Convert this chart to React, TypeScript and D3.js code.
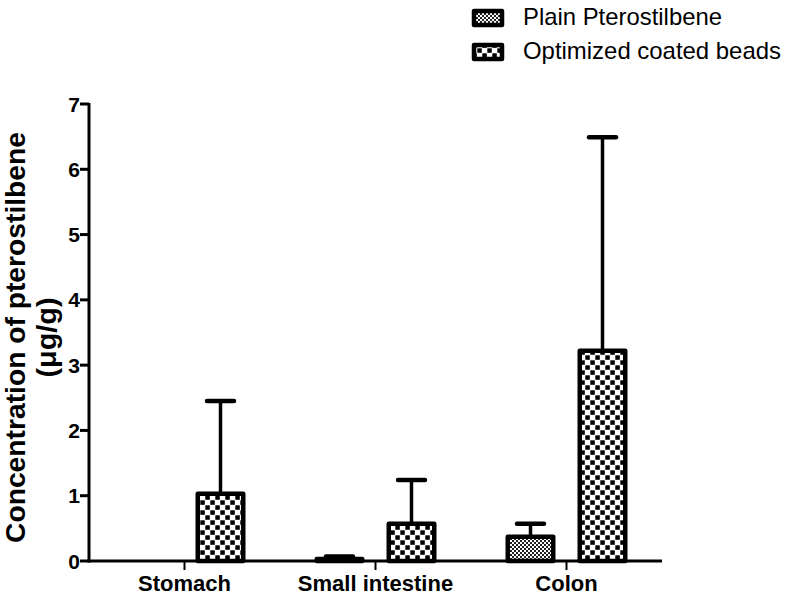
import React from "react";
import * as d3 from "d3";

const categories = ["Stomach", "Small intestine", "Colon"];
const seriesNames = ["Plain Pterostilbene", "Optimized coated beads"];
const plainValues = [0, 0.03, 0.37];
const plainErrors = [0, 0.04, 0.2];
const optimizedValues = [1.03, 0.57, 3.22];
const optimizedErrors = [1.42, 0.67, 3.27];
const yTicks = [0, 1, 2, 3, 4, 5, 6, 7];

const W = 787;
const H = 596;
const FONT = "'Liberation Sans', Arial, Helvetica, sans-serif";

export default function App() {
  const x0 = 89;
  const x1 = 662;
  const yTop = 104;
  const yBot = 561;
  const x = d3.scaleBand<string>().domain(categories).range([x0, x1]).padding(0);
  const xs = d3.scaleBand<string>().domain(seriesNames).range([-61, 61]).paddingInner(0.3056).paddingOuter(0);
  const y = d3.scaleLinear().domain([0, 7]).range([yBot, yTop]);
  const series = [
    { name: seriesNames[0], values: plainValues, errors: plainErrors, fill: "url(#patPlain)", len: 199 },
    { name: seriesNames[1], values: optimizedValues, errors: optimizedErrors, fill: "url(#patOpt)", len: 258 },
  ];
  const bw = xs.bandwidth();
  const capW = 27;
  return (
    <svg width={W} height={H} style={{ position: "absolute", left: 0, top: 0, background: "#fff" }}>
      <defs>
        <pattern id="patOpt" width={10} height={10} patternUnits="userSpaceOnUse">
          <rect width={10} height={10} fill="#fff" />
          <rect x={0.3} y={0.3} width={4.5} height={4.5} fill="#000" />
          <rect x={5.3} y={5.3} width={4.5} height={4.5} fill="#000" />
        </pattern>
        <pattern id="patPlain" width={4} height={4} patternUnits="userSpaceOnUse">
          <rect width={4} height={4} fill="#fff" />
          <rect x={0} y={0} width={2} height={2} fill="#222" />
          <rect x={2} y={2} width={2} height={2} fill="#222" />
        </pattern>
      </defs>
      {/* bars */}
      {series.map((s) =>
        categories.map((c, i) => {
          const v = s.values[i];
          if (v <= 0) return null;
          const cx = (x(c) as number) + x.bandwidth() / 2 + (xs(s.name) as number) + bw / 2;
          const top = y(v);
          const errTop = y(v + s.errors[i]);
          return (
            <g key={s.name + c}>
              <line x1={cx} x2={cx} y1={top} y2={errTop} stroke="#000" strokeWidth={3.5} />
              <line x1={cx - capW / 2} x2={cx + capW / 2} y1={errTop} y2={errTop} stroke="#000" strokeWidth={4.5} strokeLinecap="round" />
              <rect x={cx - bw / 2 + 2.25} y={top} width={bw - 4.5} height={Math.max(0, yBot - top)} fill={s.fill} stroke="#000" strokeWidth={4.5} strokeLinejoin="round" />
            </g>
          );
        })
      )}
      {/* axes */}
      <line x1={x0} x2={x0} y1={yTop - 1} y2={yBot + 1.5} stroke="#000" strokeWidth={3} />
      <line x1={x0 - 1.5} x2={x1} y1={yBot} y2={yBot} stroke="#000" strokeWidth={3} />
      {yTicks.map((t) => (
        <g key={t}>
          <line x1={x0 - 9} x2={x0} y1={y(t)} y2={y(t)} stroke="#000" strokeWidth={3} />
          <text x={x0 - 9} y={y(t)} dy="0.36em" textAnchor="end" fontFamily={FONT} fontWeight="bold" fontSize={21}>
            {t}
          </text>
        </g>
      ))}
      {categories.map((c) => {
        const cx = (x(c) as number) + x.bandwidth() / 2;
        return (
          <g key={c}>
            <line x1={cx} x2={cx} y1={yBot} y2={yBot + 9} stroke="#000" strokeWidth={2} />
            <text x={cx} y={590.5} textAnchor="middle" fontFamily={FONT} fontWeight="bold" fontSize={22}>
              {c}
            </text>
          </g>
        );
      })}
      {/* y label */}
      <g transform={`translate(16, 337.5) rotate(-90)`}>
        <text x={0} y={0} dy="0.33em" textAnchor="middle" fontFamily={FONT} fontWeight="bold" fontSize={28} textLength={411} lengthAdjust="spacingAndGlyphs">
          Concentration of pterostilbene
        </text>
        <text x={0} y={31} dy="0.33em" textAnchor="middle" fontFamily={FONT} fontWeight="bold" fontSize={28} textLength={80} lengthAdjust="spacingAndGlyphs">
          (μg/g)
        </text>
      </g>
      {/* legend */}
      {series.map((s, i) => (
        <g key={s.name} transform={`translate(472, ${9 + i * 34})`}>
          <rect x={2} y={2} width={28} height={14} fill={s.fill} stroke="#000" strokeWidth={4.5} strokeLinejoin="round" />
          <text x={51} y={16} fontFamily={FONT} fontSize={24} textLength={s.len} lengthAdjust="spacingAndGlyphs">
            {s.name}
          </text>
        </g>
      ))}
    </svg>
  );
}
